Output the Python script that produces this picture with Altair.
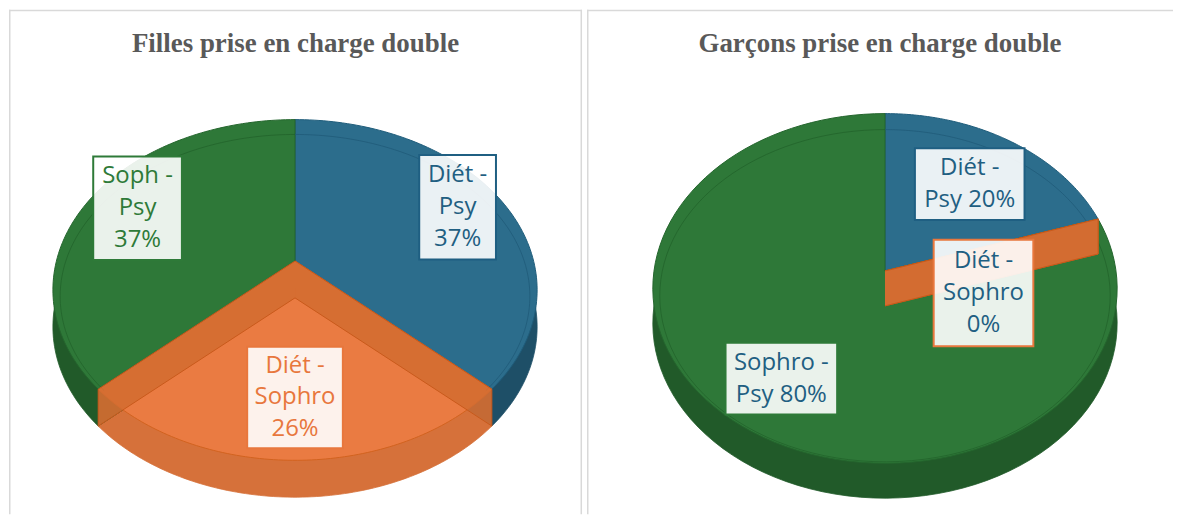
import altair as alt
import pandas as pd

# ---------------- data ----------------
FILLES_TITLE = "Filles prise en charge double"
FILLES_CATS = ["Diét - Psy", "Diét - Sophro", "Soph - Psy"]
FILLES_VALS = [37, 26, 37]

GARCONS_TITLE = "Garçons prise en charge double"
GARCONS_CATS = ["Diét - Psy", "Diét - Sophro", "Sophro - Psy"]
GARCONS_VALS = [20, 0, 80]

# ---------------- styles ----------------
TOP_COLORS = ["#2c6d8c", "#ea7b42", "#2e7838"]
SIDE_COLORS = ["#1e4f67", "#d6713a", "#215a29"]
EDGE_COLORS = ["#1f5c7a", "#d2621f", "#24652d"]
RING_COLORS = ["#1f5a78", "#d2621f", "#22632b"]
LBL_BLUE, LBL_ORANGE, LBL_GREEN = "#1f5f82", "#e8773d", "#2e7a38"
CUT_FILL, CUT_EDGE = "#d46c31", "#c9591b"
CUT_CATS = ["Diét - Sophro"]
BORDER = "#d9d9d9"

H = 506
N_ARC = 100
LINE_H = 32

# pie geometry: apex position (panel px), horizontal / vertical scale (px), perspective, depth (px)
FILLES_GEOM = dict(W=575, cx=287, cy=252, sx=239.4, sy=166, p=0.17, d=37)
FILLES_LBL = dict(sep=["|", "|", "|"], bw=[77, 96, 89], bh=[105, 102, 104],
                  lr=[0.755, 0.825, 0.733], nudge=[-2.1, 0, 2.4],
                  text=[LBL_BLUE, LBL_ORANGE, LBL_GREEN],
                  border=[LBL_BLUE, LBL_ORANGE, LBL_GREEN])

GARCONS_GEOM = dict(W=588, cx=299, cy=262, sx=231.8, sy=173.7, p=0.10, d=35)
GARCONS_LBL = dict(sep=[" ", "|", " "], bw=[110, 100, 112], bh=[72, 107, 72],
                   lr=[0.621, 0.445, 0.767], nudge=[0.2, 34.6, -0.2],
                   text=[LBL_BLUE, LBL_BLUE, LBL_BLUE],
                   border=[LBL_BLUE, LBL_ORANGE, LBL_GREEN])


def panel(title, cats, vals, g, lab, right_open=False):
    W, cx, cy, sx, sy, p, d = g["W"], g["cx"], g["cy"], g["sx"], g["sy"], g["p"], g["d"]
    df = pd.DataFrame({
        "cat": cats, "val": vals, "order": list(range(len(cats))),
        "sep": lab["sep"], "bw": lab["bw"], "bh": lab["bh"],
        "lr": lab["lr"], "nudge": lab["nudge"],
    })
    xs = alt.Scale(domain=[-cx / sx, (W - cx) / sx], nice=False, zero=False)
    ys = alt.Scale(domain=[-(H - cy) / sy, cy / sy], nice=False, zero=False)
    depth = d / sy

    base = (
        alt.Chart(df)
        .transform_window(cum="sum(val)", sort=[alt.SortField("order")], frame=[None, 0])
        .transform_joinaggregate(total="sum(val)")
        .transform_calculate(
            a0="2*PI*(datum.cum - datum.val)/datum.total",
            a1="2*PI*datum.cum/datum.total",
        )
    )

    slices = (
        base.transform_calculate(k=f"sequence(0, {N_ARC + 2})")
        .transform_flatten(["k"])
        .transform_calculate(
            t=f"datum.a0 + (datum.a1 - datum.a0) * clamp((datum.k - 1) / {N_ARC - 1}, 0, 1)",
            r=f"(datum.k == 0 || datum.k == {N_ARC + 1}) ? 0 : 1",
        )
        .transform_calculate(u="datum.r*sin(datum.t)", v="datum.r*cos(datum.t)")
        .transform_calculate(px=f"datum.u/(1 + {p}*datum.v)", py=f"datum.v/(1 + {p}*datum.v)")
        .transform_calculate(pys=f"datum.py - {depth}",
                             rx="0.97*datum.px", ry="0.95*datum.py - 0.047")
    )

    side = slices.mark_line(filled=True, strokeWidth=0.8).encode(
        x=alt.X("px:Q", scale=xs, axis=None),
        y=alt.Y("pys:Q", scale=ys, axis=None),
        fill=alt.Fill("cat:N", scale=alt.Scale(domain=cats, range=SIDE_COLORS), legend=None),
        stroke=alt.Stroke("cat:N", scale=alt.Scale(domain=cats, range=SIDE_COLORS), legend=None),
        order=alt.Order("k:Q"),
    )
    top = slices.mark_line(filled=True, strokeWidth=1, strokeJoin="round").encode(
        x=alt.X("px:Q", scale=xs, axis=None),
        y=alt.Y("py:Q", scale=ys, axis=None),
        fill=alt.Fill("cat:N", scale=alt.Scale(domain=cats, range=TOP_COLORS), legend=None),
        stroke=alt.Stroke("cat:N", scale=alt.Scale(domain=cats, range=EDGE_COLORS), legend=None),
        order=alt.Order("k:Q"),
    )
    ring = (
        slices.transform_filter("datum.r == 1")
        .transform_filter(alt.FieldOneOfPredicate(field="cat", oneOf=CUT_CATS).__invert__())
        .mark_line(strokeWidth=1, opacity=0.8)
        .encode(
            x=alt.X("rx:Q", scale=xs, axis=None),
            y=alt.Y("ry:Q", scale=ys, axis=None),
            stroke=alt.Stroke("cat:N", scale=alt.Scale(domain=cats, range=RING_COLORS), legend=None),
            order=alt.Order("k:Q"),
        )
    )

    cut = (
        base.transform_filter(alt.FieldOneOfPredicate(field="cat", oneOf=CUT_CATS))
        .transform_calculate(k="sequence(0, 8)")
        .transform_flatten(["k"])
        .transform_calculate(e="floor(datum.k / 4)", j="datum.k % 4")
        .transform_calculate(
            t="datum.e == 0 ? datum.a0 : datum.a1",
            rr="(datum.j == 1 || datum.j == 2) ? 1 : 0",
            dz=f"datum.j >= 2 ? {depth} : 0",
            grp="datum.cat + '_' + datum.e",
        )
        .transform_calculate(u="datum.rr*sin(datum.t)", v="datum.rr*cos(datum.t)")
        .transform_calculate(cxp=f"datum.u/(1 + {p}*datum.v)",
                             cyp=f"datum.v/(1 + {p}*datum.v) - datum.dz")
        .mark_line(filled=True, fill=CUT_FILL, stroke=CUT_EDGE, strokeWidth=1, fillOpacity=0.92)
        .encode(
            x=alt.X("cxp:Q", scale=xs, axis=None),
            y=alt.Y("cyp:Q", scale=ys, axis=None),
            detail="grp:N",
            order=alt.Order("j:Q"),
        )
    )

    lbl = (
        base.transform_calculate(mid="(datum.a0 + datum.a1)/2 + datum.nudge*PI/180")
        .transform_calculate(lx="datum.lr*sin(datum.mid)", ly="datum.lr*cos(datum.mid)")
        .transform_calculate(
            label="replace(datum.cat, ' - ', ' -|') + datum.sep + format(datum.val/datum.total, '.0%')",
            bx0=f"datum.lx - datum.bw/2/{sx}",
            bx1=f"datum.lx + datum.bw/2/{sx}",
            by0=f"datum.ly - datum.bh/2/{sy}",
            by1=f"datum.ly + datum.bh/2/{sy}",
        )
        .transform_calculate(nl="length(split(datum.label, '|'))")
        .transform_calculate(ty=f"datum.ly + (datum.nl - 1)*{LINE_H / 2}/{sy}")
    )
    boxes = lbl.mark_rect(fill="white", fillOpacity=0.9, strokeWidth=2).encode(
        x=alt.X("bx0:Q", scale=xs, axis=None),
        x2="bx1:Q",
        y=alt.Y("by0:Q", scale=ys, axis=None),
        y2="by1:Q",
        stroke=alt.Stroke("cat:N", scale=alt.Scale(domain=cats, range=lab["border"]), legend=None),
    )
    texts = lbl.mark_text(font="Open Sans", fontSize=24, lineHeight=LINE_H, lineBreak="|",
                          align="center", baseline="middle").encode(
        x=alt.X("lx:Q", scale=xs, axis=None),
        y=alt.Y("ty:Q", scale=ys, axis=None),
        text="label:N",
        color=alt.Color("cat:N", scale=alt.Scale(domain=cats, range=lab["text"]), legend=None),
    )

    tdf = pd.DataFrame({"t": [title]})
    ttl = alt.Chart(tdf).mark_text(font="Liberation Serif", fontSize=27, fontWeight="bold",
                                   color="#595959", align="center", baseline="middle").encode(
        x=alt.value(W / 2), y=alt.value(34), text="t:N")

    frame = alt.Chart(tdf)
    r_top = frame.mark_rule(color=BORDER, strokeWidth=1.5).encode(
        x=alt.value(0), x2=alt.value(W), y=alt.value(0.75))
    r_left = frame.mark_rule(color=BORDER, strokeWidth=1.5).encode(
        x=alt.value(0.75), y=alt.value(0), y2=alt.value(H))
    layers = [side, top, ring, cut, boxes, texts, ttl, r_top, r_left]
    if not right_open:
        layers.append(frame.mark_rule(color=BORDER, strokeWidth=1.5).encode(
            x=alt.value(W - 0.75), y=alt.value(0), y2=alt.value(H)))

    return alt.layer(*layers).resolve_scale(
        fill="independent", stroke="independent", color="independent"
    ).properties(width=W, height=H)


left = panel(FILLES_TITLE, FILLES_CATS, FILLES_VALS, FILLES_GEOM, FILLES_LBL)
right = panel(GARCONS_TITLE, GARCONS_CATS, GARCONS_VALS, GARCONS_GEOM, GARCONS_LBL, right_open=True)

chart = (
    alt.hconcat(left, right, spacing=3)
    .properties(padding=0, background="white")
    .configure_view(stroke=None)
)

chart.save("out.html", embed_options={"renderer": "svg", "actions": False})
